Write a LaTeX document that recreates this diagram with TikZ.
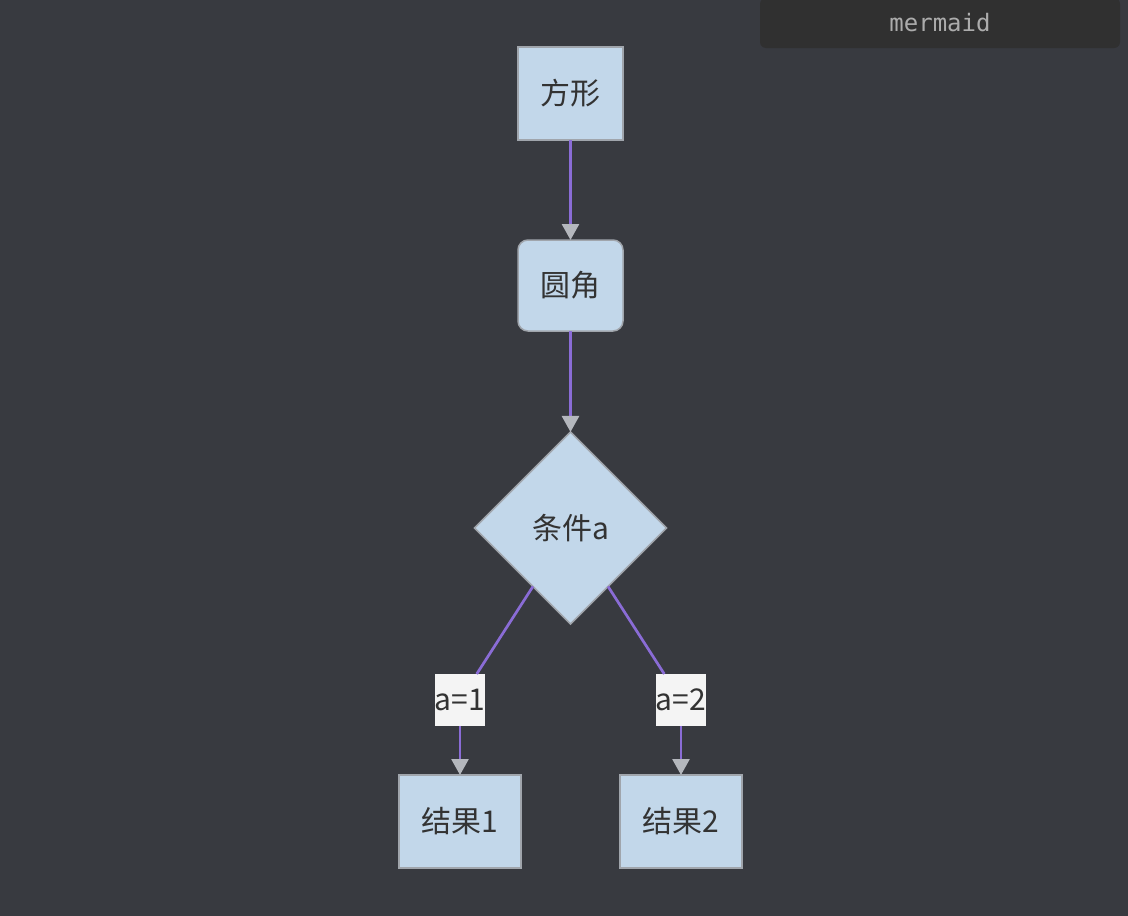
\documentclass[tikz,border=0pt]{standalone}
\usepackage{fontspec}
\setmainfont{Noto Sans CJK SC}
\newfontfamily\tagfont{DejaVu Sans Mono}
\usepackage{xcolor}
\definecolor{bgdark}{RGB}{56, 58, 64}
\definecolor{nodefill}{RGB}{194, 215, 234}
\definecolor{nodeborder}{RGB}{160, 165, 172}
\definecolor{edgepurple}{RGB}{138, 108, 214}
\definecolor{tipgray}{RGB}{180, 183, 189}
\definecolor{labelfill}{RGB}{244, 244, 244}
\definecolor{textdark}{RGB}{51, 51, 51}
\definecolor{tagfill}{RGB}{48, 48, 48}
\definecolor{tagtext}{RGB}{172, 172, 172}
\usetikzlibrary{positioning, shapes.geometric, arrows.meta}

\begin{document}
\begin{tikzpicture}[x=1pt, y=-1pt,
    flowbox/.style={draw=nodeborder, line width=1.5pt, fill=nodefill, text=textdark,
        font=\fontsize{30}{34}\selectfont, inner sep=0pt, outer sep=0pt,
        minimum width=105pt, minimum height=93pt},
    resultbox/.style={flowbox, minimum width=122pt},
    decision/.style={flowbox, diamond, minimum width=192pt, minimum height=192pt},
    edgelabel/.style={fill=labelfill, text=textdark, font=\fontsize{30}{34}\selectfont,
        inner sep=0pt, outer sep=0pt, minimum width=50pt, minimum height=52pt},
    flowline/.style={draw=edgepurple, line width=2.7pt},
    flowarrow/.style={flowline, -{Triangle[length=16pt, width=17pt, color=tipgray]}}]

    % Background and canvas size
    \fill[bgdark] (0,0) rectangle (1128,916);
    \useasboundingbox (0,0) rectangle (1128,916);

    % Mermaid tag
    \node[fill=tagfill, rounded corners=6pt, minimum width=360pt, minimum height=50pt,
        text=tagtext, font=\tagfont\fontsize{24}{28}\selectfont] (tag) at (940,23) {mermaid};

    % Nodes
    \node[flowbox] (square) at (570.5,93.5) {方形};
    \node[flowbox, rounded corners=10pt, minimum height=91pt] (rounded) at (570.5,285.5) {圆角};
    \node[decision] (cond) at (570.5,528) {条件a};
    \node[resultbox] (res1) at (460,821.5) {结果1};
    \node[resultbox] (res2) at (681,821.5) {结果2};

    % Edge labels
    \node[edgelabel] (lab1) at (460,700) {a=1};
    \node[edgelabel] (lab2) at (681,700) {a=2};

    % Edges
    \draw[flowarrow] (square) -- (rounded);
    \draw[flowarrow] (rounded) -- (cond);
    \draw[flowline] (cond) -- (lab1);
    \draw[flowline] (cond) -- (lab2);
    \draw[flowarrow] (lab1) -- (res1);
    \draw[flowarrow] (lab2) -- (res2);
\end{tikzpicture}
\end{document}
